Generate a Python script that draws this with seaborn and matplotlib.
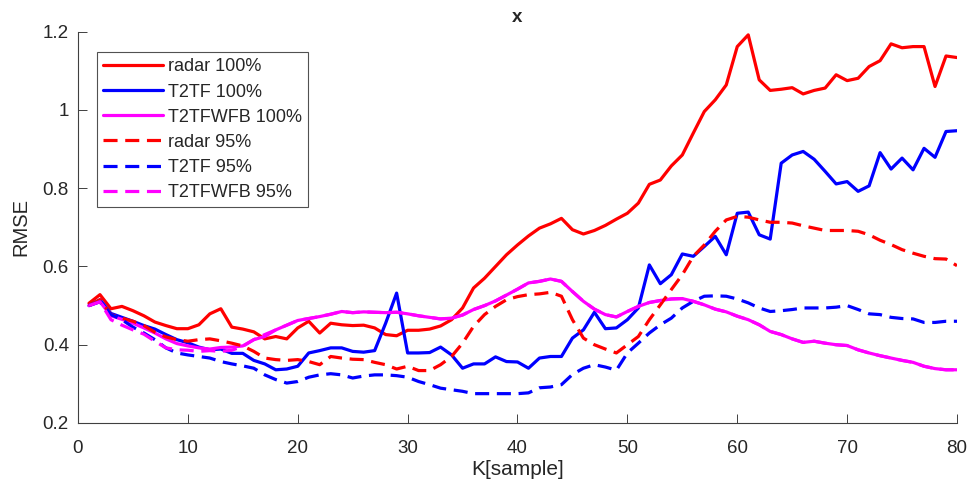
import numpy as np
import pandas as pd
import matplotlib
matplotlib.use("Agg")
import matplotlib.pyplot as plt
import seaborn as sns

# sample index
K = list(range(1, 81))

radar_100 = [0.506, 0.528, 0.492, 0.498, 0.487, 0.474, 0.458, 0.449, 0.441, 0.441,
             0.451, 0.479, 0.492, 0.445, 0.440, 0.433, 0.415, 0.421, 0.415, 0.443,
             0.460, 0.430, 0.455, 0.451, 0.449, 0.450, 0.443, 0.426, 0.423, 0.437,
             0.437, 0.440, 0.448, 0.464, 0.494, 0.545, 0.570, 0.600, 0.630, 0.655,
             0.678, 0.698, 0.709, 0.723, 0.694, 0.683, 0.692, 0.705, 0.721, 0.736,
             0.762, 0.810, 0.821, 0.857, 0.885, 0.941, 0.996, 1.026, 1.064, 1.162,
             1.192, 1.077, 1.050, 1.053, 1.057, 1.041, 1.050, 1.056, 1.090, 1.075,
             1.081, 1.111, 1.126, 1.169, 1.159, 1.162, 1.162, 1.060, 1.138, 1.134]

t2tf_100 = [0.500, 0.515, 0.480, 0.470, 0.460, 0.449, 0.440, 0.426, 0.413, 0.405,
            0.394, 0.387, 0.389, 0.378, 0.378, 0.360, 0.351, 0.336, 0.338, 0.345,
            0.379, 0.385, 0.392, 0.392, 0.383, 0.381, 0.385, 0.455, 0.532, 0.379,
            0.379, 0.380, 0.394, 0.374, 0.340, 0.351, 0.351, 0.369, 0.357, 0.356,
            0.340, 0.366, 0.370, 0.370, 0.417, 0.438, 0.483, 0.441, 0.443, 0.464,
            0.494, 0.604, 0.556, 0.579, 0.632, 0.626, 0.651, 0.677, 0.630, 0.736,
            0.739, 0.681, 0.670, 0.864, 0.885, 0.894, 0.874, 0.843, 0.811, 0.817,
            0.792, 0.806, 0.891, 0.849, 0.877, 0.847, 0.902, 0.879, 0.945, 0.947]

t2tfwfb_100 = [0.500, 0.510, 0.474, 0.465, 0.455, 0.443, 0.430, 0.415, 0.403, 0.397,
               0.392, 0.389, 0.393, 0.394, 0.397, 0.413, 0.421, 0.438, 0.450, 0.462,
               0.467, 0.472, 0.478, 0.485, 0.482, 0.484, 0.483, 0.482, 0.483, 0.479,
               0.474, 0.470, 0.466, 0.468, 0.476, 0.490, 0.500, 0.512, 0.527, 0.542,
               0.558, 0.562, 0.568, 0.562, 0.536, 0.511, 0.491, 0.477, 0.471, 0.485,
               0.498, 0.508, 0.513, 0.517, 0.518, 0.511, 0.502, 0.491, 0.484, 0.473,
               0.464, 0.451, 0.434, 0.426, 0.415, 0.406, 0.409, 0.404, 0.400, 0.398,
               0.387, 0.379, 0.372, 0.366, 0.360, 0.355, 0.345, 0.339, 0.336, 0.336]

radar_95 = [0.500, 0.515, 0.477, 0.468, 0.460, 0.449, 0.432, 0.420, 0.413, 0.409,
            0.413, 0.415, 0.410, 0.404, 0.397, 0.383, 0.366, 0.362, 0.360, 0.362,
            0.357, 0.349, 0.370, 0.366, 0.363, 0.362, 0.355, 0.349, 0.338, 0.345,
            0.334, 0.334, 0.349, 0.370, 0.404, 0.447, 0.477, 0.498, 0.515, 0.523,
            0.528, 0.530, 0.534, 0.524, 0.464, 0.417, 0.400, 0.389, 0.379, 0.400,
            0.421, 0.464, 0.502, 0.541, 0.579, 0.626, 0.655, 0.690, 0.719, 0.728,
            0.726, 0.719, 0.713, 0.713, 0.711, 0.704, 0.698, 0.692, 0.692, 0.692,
            0.690, 0.681, 0.667, 0.656, 0.643, 0.634, 0.626, 0.620, 0.619, 0.602]

t2tf_95 = [0.500, 0.510, 0.477, 0.464, 0.445, 0.430, 0.413, 0.392, 0.379, 0.374,
           0.370, 0.366, 0.357, 0.351, 0.346, 0.340, 0.323, 0.311, 0.302, 0.306,
           0.317, 0.323, 0.326, 0.323, 0.315, 0.320, 0.323, 0.323, 0.321, 0.317,
           0.306, 0.298, 0.289, 0.285, 0.281, 0.275, 0.275, 0.275, 0.275, 0.275,
           0.277, 0.290, 0.292, 0.298, 0.324, 0.340, 0.349, 0.343, 0.335, 0.379,
           0.404, 0.430, 0.451, 0.468, 0.494, 0.511, 0.524, 0.525, 0.524, 0.517,
           0.507, 0.494, 0.485, 0.487, 0.490, 0.494, 0.494, 0.494, 0.496, 0.500,
           0.490, 0.479, 0.477, 0.470, 0.467, 0.466, 0.457, 0.457, 0.460, 0.460]

t2tfwfb_95 = [0.500, 0.510, 0.464, 0.450, 0.438, 0.427, 0.409, 0.392, 0.387, 0.386,
              0.383, 0.385, 0.383, 0.386, 0.396, 0.413, 0.426, 0.438, 0.450, 0.462,
              0.467, 0.472, 0.478, 0.485, 0.482, 0.484, 0.483, 0.482, 0.483, 0.479,
              0.474, 0.470, 0.466, 0.468, 0.476, 0.490, 0.500, 0.512, 0.527, 0.542,
              0.558, 0.562, 0.568, 0.562, 0.536, 0.511, 0.491, 0.477, 0.471, 0.485,
              0.498, 0.508, 0.513, 0.517, 0.518, 0.511, 0.502, 0.491, 0.484, 0.473,
              0.464, 0.451, 0.434, 0.426, 0.415, 0.406, 0.409, 0.404, 0.400, 0.398,
              0.387, 0.379, 0.372, 0.366, 0.360, 0.355, 0.345, 0.339, 0.336, 0.336]

series_names = ["radar 100%", "T2TF 100%", "T2TFWFB 100%",
                "radar 95%", "T2TF 95%", "T2TFWFB 95%"]
series_values = [radar_100, t2tf_100, t2tfwfb_100, radar_95, t2tf_95, t2tfwfb_95]
colors = ["#ff0000", "#0000ff", "#ff00ff", "#ff0000", "#0000ff", "#ff00ff"]
styles = ["-", "-", "-", "--", "--", "--"]

LW = 2.3
DASH = (4.4, 2.4)

sns.set_style("white")
plt.rcParams['font.family'] = ['Liberation Sans', 'DejaVu Sans']

fig = plt.figure(figsize=(9.7, 4.88), dpi=100)
ax = fig.add_axes([0.0804, 0.1332, 0.9062, 0.8018])

for name, vals, c, ls in zip(series_names, series_values, colors, styles):
    sns.lineplot(x=K, y=vals, ax=ax, color=c, lw=LW, label=name)
    line = ax.get_lines()[-1]
    if ls == "--":
        line.set_dashes(DASH)

ax.set_xlim(0, 80)
ax.set_ylim(0.2, 1.2)
ax.set_xticks([0, 10, 20, 30, 40, 50, 60, 70, 80])
ax.set_yticks([0.2, 0.4, 0.6, 0.8, 1.0, 1.2])
ax.set_yticklabels(["0.2", "0.4", "0.6", "0.8", "1", "1.2"])

for side in ["top", "right"]:
    ax.spines[side].set_visible(False)
for side in ["left", "bottom"]:
    ax.spines[side].set_color("#404040")
    ax.spines[side].set_linewidth(0.8)
ax.tick_params(direction="in", length=6.5, width=0.7, color="#404040",
               labelsize=13.5, labelcolor="#262626", left=True, bottom=True)
ax.tick_params(axis="x", pad=12.5)
ax.tick_params(axis="y", pad=6.5)

ax.set_title("x", fontsize=13.5, fontweight="bold", pad=7)
ax.set_xlabel("K[sample]", fontsize=15, color="#262626", labelpad=2)
ax.set_ylabel("RMSE", fontsize=14.5, color="#262626", labelpad=9)

leg = ax.legend(loc="upper left", bbox_to_anchor=(0.0216, 0.948), fontsize=13,
                frameon=True, fancybox=False, handlelength=3.3, handletextpad=0.28,
                borderpad=0.35, labelspacing=0.45, borderaxespad=0)
leg.get_frame().set_edgecolor("#262626")
leg.get_frame().set_linewidth(0.8)
for h in leg.get_lines():
    h.set_linewidth(LW)

fig.savefig("out.png", dpi=100)
